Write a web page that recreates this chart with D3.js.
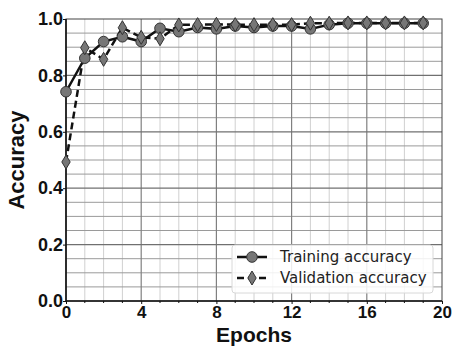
<!DOCTYPE html>
<html>
<head>
<meta charset="utf-8">
<script src="https://cdn.jsdelivr.net/npm/d3@7"></script>
<style>
  body { margin: 0; background: #fff; }
  svg { display: block; }
</style>
</head>
<body>
<svg id="chart" width="452" height="347"></svg>
<script>
const epochs = d3.range(0, 20)
const trainAcc = [0.742, 0.861, 0.92, 0.937, 0.92, 0.967, 0.955, 0.97, 0.965, 0.975,
  0.97, 0.975, 0.975, 0.965, 0.98, 0.985, 0.985, 0.985, 0.985, 0.985]
const valAcc = [0.493, 0.898, 0.857, 0.969, 0.935, 0.93, 0.979, 0.98, 0.981, 0.98,
  0.98, 0.98, 0.98, 0.985, 0.985, 0.986, 0.986, 0.986, 0.986, 0.986]
const xTicks = [0, 4, 8, 12, 16, 20]
const yTicks = [0, 0.2, 0.4, 0.6, 0.8, 1.0]
const legendLabels = ['Training accuracy', 'Validation accuracy']

const margin = { top: 19, right: 10, bottom: 46, left: 66 }
const width = 452
const height = 347

const svg = d3.select('#chart')

const x = d3.scaleLinear().domain([0, 20]).range([margin.left, width - margin.right])
const y = d3.scaleLinear().domain([0, 1]).range([height - margin.bottom, margin.top])

const grid = svg.append('g')

// minor grid
grid.selectAll('.vx')
  .data(d3.range(1, 20).filter(d => d % 4 !== 0))
  .enter().append('line')
  .attr('x1', d => x(d)).attr('x2', d => x(d))
  .attr('y1', y(0)).attr('y2', y(1))
  .attr('stroke', '#d0d0d0').attr('stroke-width', 1)

grid.selectAll('.hy')
  .data(d3.range(1, 20).map(d => d * 0.05).filter((d, i) => (i + 1) % 4 !== 0))
  .enter().append('line')
  .attr('x1', x(0)).attr('x2', x(20))
  .attr('y1', d => y(d)).attr('y2', d => y(d))
  .attr('stroke', '#9a9a9a').attr('stroke-width', 1)

// major grid
grid.selectAll('.mx')
  .data(xTicks.slice(1, -1))
  .enter().append('line')
  .attr('x1', d => x(d)).attr('x2', d => x(d))
  .attr('y1', y(0)).attr('y2', y(1))
  .attr('stroke', '#808080').attr('stroke-width', 1.2)

grid.selectAll('.my')
  .data(yTicks.slice(1, -1))
  .enter().append('line')
  .attr('x1', x(0)).attr('x2', x(20))
  .attr('y1', d => y(d)).attr('y2', d => y(d))
  .attr('stroke', '#707070').attr('stroke-width', 1.2)

// spines
svg.append('rect')
  .attr('x', x(0)).attr('y', y(1))
  .attr('width', x(20) - x(0)).attr('height', y(0) - y(1))
  .attr('fill', 'none').attr('stroke', '#444').attr('stroke-width', 1)

svg.append('line')
  .attr('x1', x(0)).attr('x2', x(0)).attr('y1', y(0)).attr('y2', y(1))
  .attr('stroke', '#111').attr('stroke-width', 1.6)
svg.append('line')
  .attr('x1', x(0)).attr('x2', x(20)).attr('y1', y(0)).attr('y2', y(0))
  .attr('stroke', '#111').attr('stroke-width', 1.6)

// axes
const xAxis = svg.append('g')
  .attr('transform', `translate(0,${y(0)})`)
  .call(d3.axisBottom(x).tickValues(xTicks).tickFormat(d3.format('d')).tickSize(3))
const yAxis = svg.append('g')
  .attr('transform', `translate(${x(0)},0)`)
  .call(d3.axisLeft(y).tickValues(yTicks).tickFormat(d3.format('.1f')).tickSize(3))

for (const ax of [xAxis, yAxis]) {
  ax.select('.domain').remove()
  ax.selectAll('text')
    .style('font-family', 'Liberation Sans, Arial, sans-serif')
    .style('font-size', '18px')
    .style('font-weight', 'bold')
    .attr('fill', '#111')
  ax.selectAll('line').attr('stroke', '#111')
}
yAxis.selectAll('text').attr('x', -3)
xAxis.selectAll('text').style('font-size', '17px').attr('y', 5)

// minor ticks
svg.append('g').selectAll('line')
  .data(d3.range(1, 20).filter(d => d % 4 !== 0))
  .enter().append('line')
  .attr('x1', d => x(d)).attr('x2', d => x(d))
  .attr('y1', y(0)).attr('y2', y(0) + 2)
  .attr('stroke', '#111')

svg.append('text')
  .attr('x', (x(0) + x(20)) / 2)
  .attr('y', 342)
  .attr('text-anchor', 'middle')
  .style('font-family', 'Liberation Sans, Arial, sans-serif')
  .style('font-size', '21px')
  .style('font-weight', 'bold')
  .attr('fill', '#111')
  .text('Epochs')

svg.append('text')
  .attr('transform', `translate(24,${(y(0) + y(1)) / 2}) rotate(-90)`)
  .attr('text-anchor', 'middle')
  .style('font-family', 'Liberation Sans, Arial, sans-serif')
  .style('font-size', '22px')
  .style('font-weight', 'bold')
  .attr('fill', '#111')
  .text('Accuracy')

// lines
const line = d3.line().x((d, i) => x(epochs[i])).y(d => y(d))

const plot = svg.append('g')

plot.append('path')
  .datum(valAcc)
  .attr('d', line)
  .attr('fill', 'none')
  .attr('stroke', '#111')
  .attr('stroke-width', 2.5)
  .attr('stroke-dasharray', '7,4')

plot.append('path')
  .datum(trainAcc)
  .attr('d', line)
  .attr('fill', 'none')
  .attr('stroke', '#111')
  .attr('stroke-width', 2.5)

const diamond = (cx, cy) => `M${cx},${cy - 7}L${cx + 4.2},${cy}L${cx},${cy + 7}L${cx - 4.2},${cy}Z`

plot.selectAll('.circ')
  .data(trainAcc)
  .enter().append('circle')
  .attr('cx', (d, i) => x(epochs[i]))
  .attr('cy', d => y(d))
  .attr('r', 5.3)
  .attr('fill', '#767676')
  .attr('stroke', '#333')
  .attr('stroke-width', 1)

plot.selectAll('.dia')
  .data(valAcc)
  .enter().append('path')
  .attr('d', (d, i) => diamond(x(epochs[i]), y(d)))
  .attr('fill', '#767676')
  .attr('stroke', '#333')
  .attr('stroke-width', 1)

// legend
const lg = svg.append('g').attr('transform', 'translate(232,245)')
lg.append('rect')
  .attr('width', 201).attr('height', 48)
  .attr('rx', 3)
  .attr('fill', 'rgba(255,255,255,0.85)')
  .attr('stroke', '#d8d8d8')

legendLabels.forEach((label, i) => {
  const cy = 12 + i * 21
  lg.append('line')
    .attr('x1', 5).attr('x2', 35).attr('y1', cy).attr('y2', cy)
    .attr('stroke', '#111').attr('stroke-width', 2.5)
    .attr('stroke-dasharray', i === 1 ? '7,4' : null)
  if (i === 0) {
    lg.append('circle').attr('cx', 20).attr('cy', cy).attr('r', 5.3)
      .attr('fill', '#767676').attr('stroke', '#333')
  } else {
    lg.append('path').attr('d', diamond(20, cy))
      .attr('fill', '#767676').attr('stroke', '#333')
  }
  lg.append('text')
    .attr('x', 48).attr('y', cy)
    .attr('dy', '0.35em')
    .style('font-family', 'DejaVu Sans, sans-serif')
    .style('font-size', '15px')
    .attr('fill', '#222')
    .text(label)
})
</script>
</body>
</html>
